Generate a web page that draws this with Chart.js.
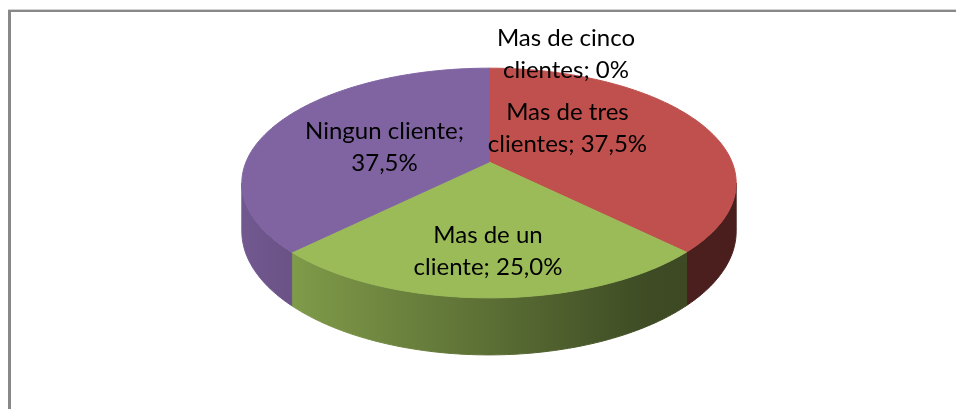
<!DOCTYPE html>
<html>
<head>
<meta charset="utf-8">
<script src="https://cdn.jsdelivr.net/npm/chart.js@4"></script>
<style>
  html, body { margin: 0; padding: 0; background: #fff; }
  canvas { display: block; }
</style>
</head>
<body>
<canvas id="chart" width="956" height="409"></canvas>
<script>
var categories = ['Mas de cinco clientes', 'Mas de tres clientes', 'Mas de un cliente', 'Ningun cliente'];
var shares = [0, 37.5, 25.0, 37.5];
var shareLabels = ['0%', '37,5%', '25,0%', '37,5%'];

var sliceColors = ['#4F81BD', '#C0504D', '#9BBB59', '#8064A2'];

// perspective of the tilted pie (Excel 3D look)
var view = { cy: 162, rx: 243, ry: 111, k: 0.183, depth: 46.6 };

// where each label sits: fraction of radius along mid angle, then a nudge
var labelPlace = [
  { f: 1.0, dx: 77, dy: -14 },
  { f: 0.5, dx: -30, dy: -13 },
  { f: 0.7, dx: -1, dy: 0 },
  { f: 0.5, dx: 4, dy: 6 }
];

function project(cx, angle, f, drop) {
  var u = f * Math.cos(angle);
  var v = -f * Math.sin(angle);
  var w = 1 + view.k * v;
  return { x: cx + view.rx * u / w, y: view.cy - view.ry * v / w + (drop || 0) / w };
}

function traceRim(ctx, cx, a0, a1, drop, first) {
  var n = Math.max(2, Math.ceil(Math.abs(a1 - a0) * 60));
  for (var i = 0; i <= n; i++) {
    var p = project(cx, a0 + (a1 - a0) * i / n, 1, drop);
    if (i === 0 && first) ctx.moveTo(p.x, p.y);
    else ctx.lineTo(p.x, p.y);
  }
}

function shade(hex, f) {
  var r = parseInt(hex.substr(1, 2), 16), g = parseInt(hex.substr(3, 2), 16), b = parseInt(hex.substr(5, 2), 16);
  return 'rgb(' + Math.round(r * f) + ',' + Math.round(g * f) + ',' + Math.round(b * f) + ')';
}

function wrap(ctx, text, maxWidth) {
  var words = text.split(' ');
  var lines = [];
  var line = words[0];
  for (var i = 1; i < words.length; i++) {
    var test = line + ' ' + words[i];
    if (ctx.measureText(test).width > maxWidth) {
      lines.push(line);
      line = words[i];
    } else {
      line = test;
    }
  }
  lines.push(line);
  return lines;
}

var framePlugin = {
  id: 'frame',
  beforeDraw: function(chart) {
    var ctx = chart.ctx;
    ctx.save();
    ctx.fillStyle = '#d4d4d4';
    ctx.fillRect(8, 9, 948, 1);
    ctx.fillStyle = '#888888';
    ctx.fillRect(8, 10, 948, 2);
    ctx.fillRect(8, 10, 3, 399);
    ctx.restore();
  }
};

var pie3dPlugin = {
  id: 'pie3d',
  beforeDatasetsDraw: function(chart) {
    var ctx = chart.ctx;
    var arcs = chart.getDatasetMeta(0).data;
    var colors = chart.data.datasets[0].backgroundColor;
    var edge = Math.asin(view.k);
    ctx.save();
    ctx.lineWidth = 1;
    ctx.lineJoin = 'round';

    // outer walls, only the front part is visible
    for (var i = 0; i < arcs.length; i++) {
      var arc = arcs[i];
      var lo = Math.max(arc.startAngle, edge);
      var hi = Math.min(arc.endAngle, Math.PI - edge);
      if (hi - lo < 1e-6) continue;
      var grad = ctx.createLinearGradient(arc.x - view.rx, 0, arc.x + view.rx, 0);
      grad.addColorStop(0, shade(colors[i], 0.88));
      grad.addColorStop(0.83, shade(colors[i], 0.40));
      grad.addColorStop(1, shade(colors[i], 0.38));
      ctx.beginPath();
      traceRim(ctx, arc.x, lo, hi, 0, true);
      traceRim(ctx, arc.x, hi, lo, view.depth, false);
      ctx.closePath();
      ctx.fillStyle = grad;
      ctx.strokeStyle = grad;
      ctx.fill();
      ctx.stroke();
    }

    // top faces
    for (var j = 0; j < arcs.length; j++) {
      var a = arcs[j];
      if (a.endAngle - a.startAngle < 1e-6) continue;
      var c = project(a.x, 0, 0, 0);
      ctx.beginPath();
      ctx.moveTo(c.x, c.y);
      traceRim(ctx, a.x, a.startAngle, a.endAngle, 0, false);
      ctx.closePath();
      ctx.fillStyle = colors[j];
      ctx.strokeStyle = colors[j];
      ctx.fill();
      ctx.stroke();
    }
    ctx.restore();
    return false;
  }
};

var labelPlugin = {
  id: 'sliceLabels',
  afterDraw: function(chart) {
    var ctx = chart.ctx;
    var arcs = chart.getDatasetMeta(0).data;
    ctx.save();
    ctx.font = '24px Lato';
    ctx.fillStyle = '#000000';
    ctx.textAlign = 'center';
    ctx.textBaseline = 'middle';
    for (var i = 0; i < arcs.length; i++) {
      var arc = arcs[i];
      var mid = (arc.startAngle + arc.endAngle) / 2;
      var place = labelPlace[i];
      var p = project(arc.x, mid, place.f, 0);
      var lines = wrap(ctx, categories[i] + '; ' + shareLabels[i], 172);
      var lh = 32;
      var y0 = p.y + place.dy - (lines.length - 1) * lh / 2;
      for (var l = 0; l < lines.length; l++) {
        ctx.fillText(lines[l], p.x + place.dx, y0 + l * lh);
      }
    }
    ctx.restore();
  }
};

new Chart(document.getElementById('chart'), {
  type: 'pie',
  data: {
    labels: categories,
    datasets: [{
      data: shares,
      backgroundColor: sliceColors,
      borderWidth: 0
    }]
  },
  options: {
    responsive: false,
    animation: false,
    layout: { padding: { left: 22 } },
    plugins: {
      legend: { display: false },
      tooltip: { enabled: false }
    }
  },
  plugins: [framePlugin, pie3dPlugin, labelPlugin]
});
</script>
</body>
</html>
